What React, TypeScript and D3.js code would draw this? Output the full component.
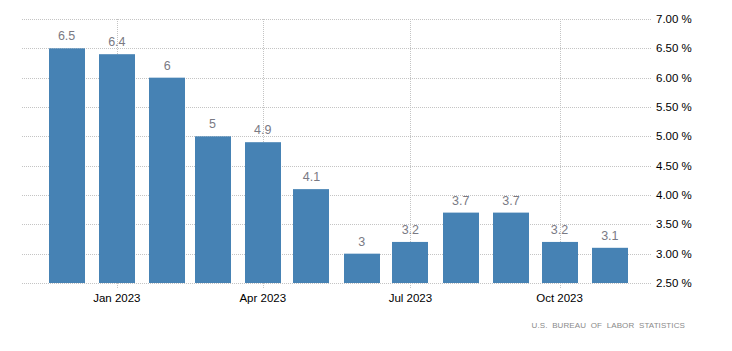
import React from "react";
import * as d3 from "d3";

const months = ["2022-12", "2023-01", "2023-02", "2023-03", "2023-04", "2023-05", "2023-06", "2023-07", "2023-08", "2023-09", "2023-10", "2023-11"];
const values = [6.5, 6.4, 6, 5, 4.9, 4.1, 3, 3.2, 3.7, 3.7, 3.2, 3.1];
const yTicks = [2.5, 3, 3.5, 4, 4.5, 5, 5.5, 6, 6.5, 7];
const xTicks = ["2023-01", "2023-04", "2023-07", "2023-10"];
const source = "U.S.  BUREAU  OF  LABOR  STATISTICS";

const W = 732;
const H = 351;
const parse = d3.timeParse("%Y-%m");

export default function App() {
  const x = d3
    .scaleTime()
    .domain([new Date(2022, 10, 3, 12), new Date(2023, 10, 27)])
    .range([22, 652]);
  const y = d3.scaleLinear().domain([2.5, 7]).range([283, 19]);
  const barW = 36;
  const fmtTick = (v: number) => v.toFixed(2) + " %";
  const fmtX = d3.timeFormat("%b %Y");
  const font = "'Liberation Sans', Arial, sans-serif";

  return (
    <svg width={W} height={H} style={{ position: "absolute", left: 0, top: 0, background: "#fff" }}>
      {yTicks.map((t) => (
        <line key={"g" + t} x1={22} x2={652} y1={Math.round(y(t)) + 0.5} y2={Math.round(y(t)) + 0.5}
          stroke="#c4c4c4" strokeWidth={1} strokeDasharray="1,1" />
      ))}
      {xTicks.map((m) => {
        const xx = Math.round(x(parse(m)!)) + 0.5;
        return (
          <line key={"v" + m} x1={xx} x2={xx} y1={y(7)} y2={y(2.5) + 5} stroke="#c4c4c4" strokeDasharray="1,1" />
        );
      })}
      {months.map((m, i) => {
        const cx = x(parse(m)!);
        return (
          <rect key={m} x={Math.round(cx - barW / 2)} width={barW} y={y(values[i])}
            height={y(2.5) - y(values[i])} fill="#4682b4" />
        );
      })}
      {months.map((m, i) => {
        const cx = x(parse(m)!);
        return (
          <text key={"l" + m} x={cx} y={y(values[i]) - 8} textAnchor="middle" fontFamily={font}
            fontSize={12.5} fill="#7a7a84">{String(values[i])}</text>
        );
      })}
      {yTicks.map((t) => (
        <text key={"t" + t} x={656} y={y(t) + 4} fontFamily={font} fontSize={11.5} fill="#000">
          {fmtTick(t)}
        </text>
      ))}
      {xTicks.map((m) => (
        <text key={"x" + m} x={x(parse(m)!)} y={302} textAnchor="middle" fontFamily={font}
          fontSize={11.5} fill="#000">{fmtX(parse(m)!)}</text>
      ))}
      <text x={685} y={328} textAnchor="end" fontFamily={font} fontSize={8} letterSpacing={0.1}
        fill="#8a8a8a" style={{ whiteSpace: "pre" }}>{source}</text>
    </svg>
  );
}
